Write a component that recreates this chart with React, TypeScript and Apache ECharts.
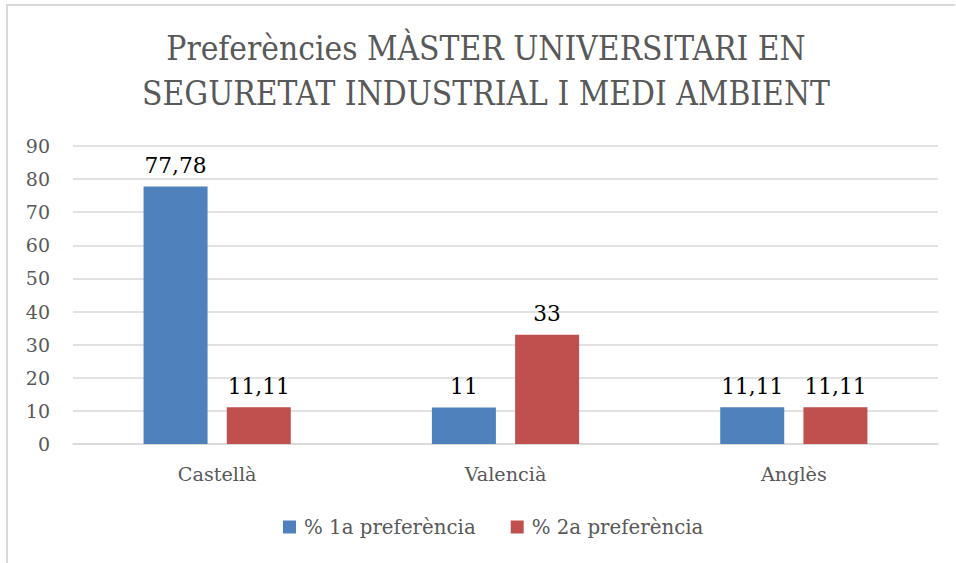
import React, { useEffect, useRef } from "react";
import * as echarts from "echarts";

const categories = ["Castellà", "Valencià", "Anglès"];
const seriesNames = ["% 1a preferència", "% 2a preferència"];
const firstPref = [77.78, 11, 11.11];
const secondPref = [11.11, 33, 11.11];
const colors = ["#4F81BD", "#C0504D"];
const titleLines = ["Preferències MÀSTER UNIVERSITARI EN", "SEGURETAT INDUSTRIAL I MEDI AMBIENT"];

const fmt = (v: number) => String(v).replace(".", ",");

export default function App() {
  const ref = useRef<HTMLDivElement>(null);
  useEffect(() => {
    document.body.style.margin = "0";
    const chart = echarts.init(ref.current!, null, { renderer: "svg" });
    const serifC = "DejaVu Serif Condensed";
    const serif = "DejaVu Serif";
    const mkSeries = (name: string, data: number[], color: string) => ({
      name,
      type: "bar",
      data,
      barWidth: 64,
      barGap: "30%",
      itemStyle: { color },
      label: {
        show: true,
        position: "top",
        distance: 10,
        color: "#000",
        fontFamily: serif,
        fontSize: 21.7,
        formatter: (p: any) => fmt(p.value),
      },
    });
    chart.setOption({
      animation: false,
      backgroundColor: "#fff",
      title: {
        text: titleLines.join("\n"),
        left: 481,
        textAlign: "center",
        top: 21,
        padding: 5,
        textStyle: {
          fontFamily: serifC,
          fontWeight: "normal",
          fontSize: 33.2,
          lineHeight: 45,
          color: "#595959",
        },
      },
      graphic: [
        {
          type: "polyline",
          shape: { points: [[7, 563], [7, 5], [955, 5]] },
          style: { stroke: "#d9d9d9", lineWidth: 2, fill: "none" },
          silent: true,
        },
      ],
      legend: {
        bottom: 21,
        left: 278,
        itemWidth: 13,
        itemHeight: 13,
        itemGap: 35,
        icon: "rect",
        textStyle: { fontFamily: serif, fontSize: 19.8, color: "#595959", padding: [0, 0, 0, 3] },
        data: seriesNames,
      },
      grid: { left: 73, right: 18, top: 146, bottom: 119 },
      xAxis: {
        type: "category",
        data: categories,
        axisTick: { show: false },
        axisLine: { lineStyle: { color: "#d9d9d9", width: 1.5 } },
        axisLabel: { fontFamily: serif, fontSize: 19.2, color: "#595959", margin: 21 },
      },
      yAxis: {
        type: "value",
        min: 0,
        max: 90,
        interval: 10,
        axisLine: { show: false },
        axisTick: { show: false },
        splitLine: { lineStyle: { color: "#d9d9d9", width: 1.5 } },
        axisLabel: { fontFamily: serif, fontSize: 19, color: "#595959", margin: 23 },
      },
      series: [
        mkSeries(seriesNames[0], firstPref, colors[0]),
        mkSeries(seriesNames[1], secondPref, colors[1]),
      ],
    });
    return () => chart.dispose();
  }, []);
  return <div ref={ref} style={{ width: 956, height: 563 }} />;
}
